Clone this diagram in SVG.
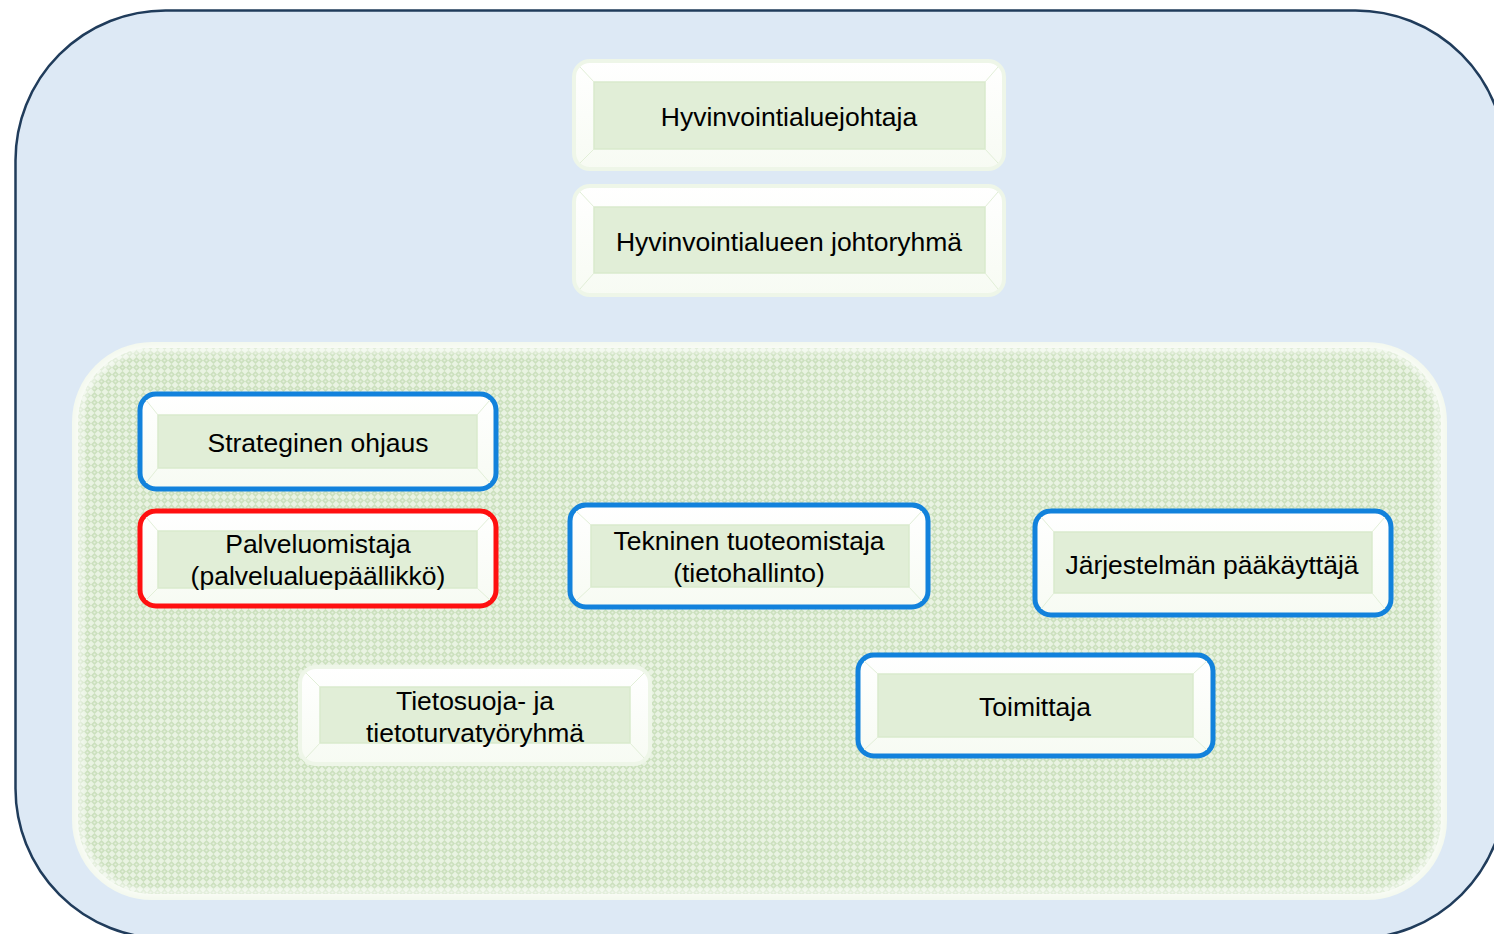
<svg xmlns="http://www.w3.org/2000/svg" width="1494" height="934" viewBox="0 0 1494 934">
  <defs>
    <pattern id="hatch" width="7" height="7" patternUnits="userSpaceOnUse">
      <rect width="7" height="7" fill="#e9f3e2"/>
      <path d="M0 3.5 L3.5 0 L7 3.5 L3.5 7 Z" fill="#cbe0bd"/>
      <circle cx="3.5" cy="3.5" r="1.1" fill="#e4efdb"/>
    </pattern>
    <linearGradient id="ring" x1="0" y1="0" x2="0" y2="1">
      <stop offset="0" stop-color="#ffffff"/>
      <stop offset="1" stop-color="#f7fbf3"/>
    </linearGradient>
    <filter id="soft" x="-5%" y="-5%" width="110%" height="110%">
      <feGaussianBlur stdDeviation="2.5"/>
    </filter>
  </defs>
  <style>
    .outer { fill: #dde9f5; stroke: #203c5b; stroke-width: 2.5; }
    .box { fill: url(#ring); stroke-width: 5; }
    .blue { stroke: #1282dc; }
    .red { stroke: #ff1010; }
    .pale { stroke: #eef6e8; stroke-width: 4; }
    .panel { fill: #e1eed7; stroke: #d9eacd; stroke-width: 1.5; }
    .bev { stroke: #e2efd8; stroke-width: 1; fill: none; }
    text { font-family: "Liberation Sans", Arial, sans-serif; font-size: 26.5px; fill: #000; text-anchor: middle; }
  </style>

  <g id="background">
    <rect class="outer" x="15.5" y="10.5" width="1490" height="928" rx="150" ry="150"/>
  </g>

  <g id="container">
    <rect x="72" y="342" width="1375" height="558" rx="80" ry="80" fill="#f4f9ef"/>
    <rect x="78" y="348" width="1363" height="546" rx="74" ry="74" fill="url(#hatch)"/>
    <rect x="80" y="350" width="1359" height="542" rx="72" ry="72" fill="none" stroke="#ffffff" stroke-opacity="0.7" stroke-width="5" filter="url(#soft)"/>
  </g>

  <g id="node-johtaja">
    <rect class="box pale" x="574" y="61" width="430" height="108" rx="16"/>
    <rect class="panel" x="594" y="82" width="391" height="67"/>
    <path class="bev" d="M580 67 L594 82 M998 67 L985 82 M580 163 L594 149 M998 163 L985 149"/>
    <text x="789" y="126">Hyvinvointialuejohtaja</text>
  </g>

  <g id="node-johtoryhma">
    <rect class="box pale" x="574" y="186" width="430" height="109" rx="16"/>
    <rect class="panel" x="594" y="207" width="391" height="66"/>
    <path class="bev" d="M580 192 L594 207 M998 192 L985 207 M580 289 L594 273 M998 289 L985 273"/>
    <text x="789" y="251">Hyvinvointialueen johtoryhmä</text>
  </g>

  <g id="node-strateginen">
    <rect class="box blue" x="140" y="394" width="356" height="95" rx="16"/>
    <rect class="panel" x="158" y="415" width="319" height="53"/>
    <path class="bev" d="M146 400 L158 415 M490 400 L477 415 M146 483 L158 468 M490 483 L477 468"/>
    <text x="318" y="452">Strateginen ohjaus</text>
  </g>

  <g id="node-palveluomistaja">
    <rect class="box red" x="140" y="511" width="356" height="95" rx="16"/>
    <rect class="panel" x="158" y="531" width="319" height="57"/>
    <path class="bev" d="M146 517 L158 531 M490 517 L477 531 M146 600 L158 588 M490 600 L477 588"/>
    <text x="318" y="553">Palveluomistaja</text>
    <text x="318" y="585">(palvelualuepäällikkö)</text>
  </g>

  <g id="node-tekninen">
    <rect class="box blue" x="570" y="505" width="358" height="102" rx="16"/>
    <rect class="panel" x="591" y="525" width="318" height="62"/>
    <path class="bev" d="M576 511 L591 525 M922 511 L909 525 M576 601 L591 587 M922 601 L909 587"/>
    <text x="749" y="550">Tekninen tuoteomistaja</text>
    <text x="749" y="582">(tietohallinto)</text>
  </g>

  <g id="node-paakayttaja">
    <rect class="box blue" x="1035" y="511" width="356" height="104" rx="16"/>
    <rect class="panel" x="1054" y="532" width="318" height="61"/>
    <path class="bev" d="M1041 517 L1054 532 M1385 517 L1372 532 M1041 609 L1054 593 M1385 609 L1372 593"/>
    <text x="1212" y="574">Järjestelmän pääkäyttäjä</text>
  </g>

  <g id="node-tietosuoja">
    <rect class="box pale" x="300" y="667" width="350" height="97" rx="16"/>
    <rect class="panel" x="320" y="687" width="310" height="56"/>
    <path class="bev" d="M306 673 L320 687 M644 673 L630 687 M306 758 L320 743 M644 758 L630 743"/>
    <text x="475" y="710">Tietosuoja- ja</text>
    <text x="475" y="742">tietoturvatyöryhmä</text>
  </g>

  <g id="node-toimittaja">
    <rect class="box blue" x="858" y="655" width="355" height="101" rx="16"/>
    <rect class="panel" x="878" y="674" width="315" height="63"/>
    <path class="bev" d="M864 661 L878 674 M1207 661 L1193 674 M864 750 L878 737 M1207 750 L1193 737"/>
    <text x="1035" y="716">Toimittaja</text>
  </g>

  <g id="connectors"></g>
</svg>
